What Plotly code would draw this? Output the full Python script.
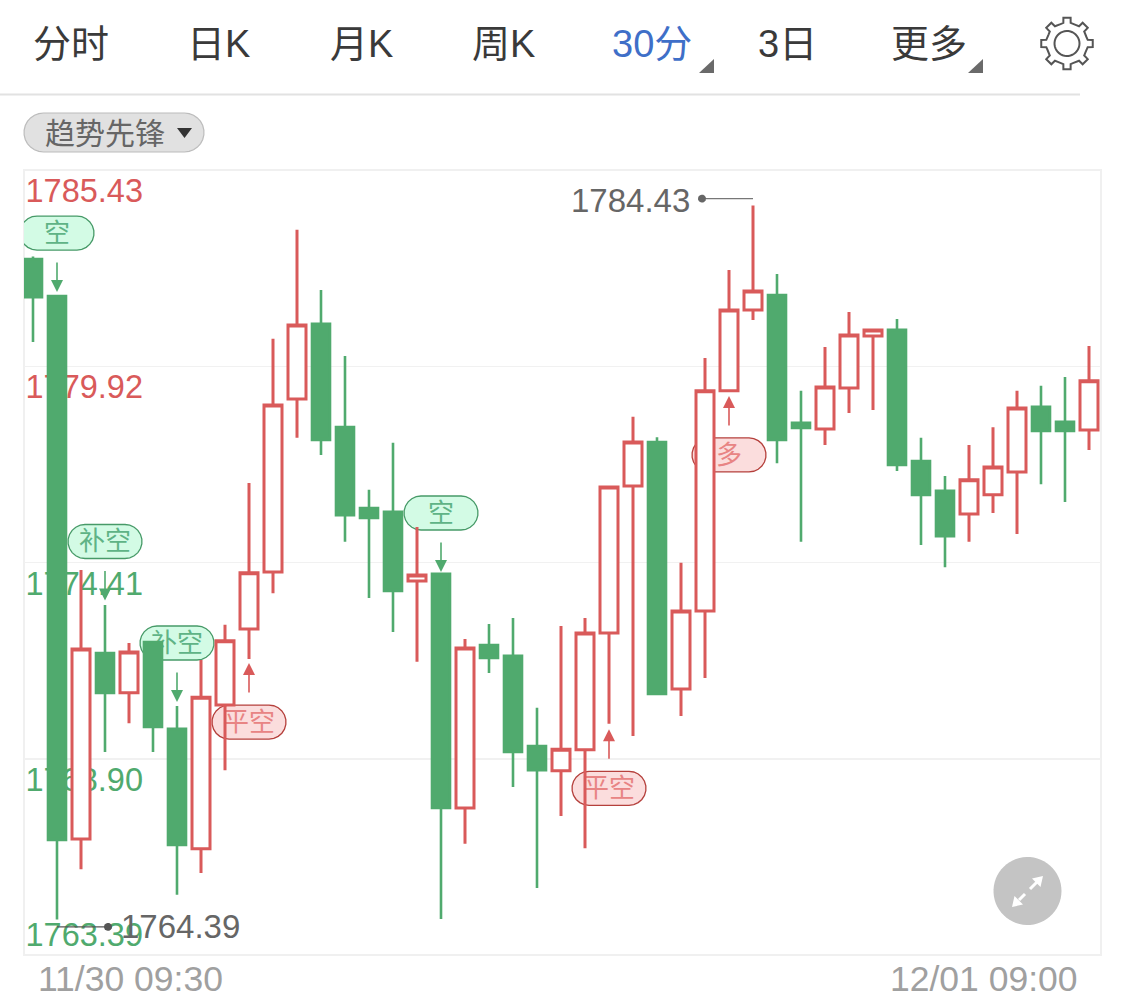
import numpy as np
import plotly.graph_objects as go

W, H = 1125, 1008
PL, PR, PT, PB = 24, 1101, 170, 955
Y_MIN, Y_MAX = 1763.39, 1785.43

# ---- data ----
opens = [1782.93, 1781.89, 1766.65, 1771.87, 1770.75, 1772.18, 1769.74, 1766.37, 1770.41, 1772.54,
         1774.14, 1779.00, 1781.11, 1778.21, 1775.94, 1775.83, 1773.89, 1774.09, 1767.52, 1772.09,
         1771.79, 1769.26, 1768.56, 1769.15, 1772.43, 1776.56, 1777.79, 1770.86, 1773.05, 1779.23,
         1781.50, 1781.92, 1778.33, 1778.16, 1779.31, 1780.77, 1780.94, 1777.26, 1776.42, 1775.77,
         1776.31, 1776.95, 1778.78, 1778.36, 1778.13]
highs = [1783.00, 1781.89, 1774.20, 1773.22, 1772.15, 1772.18, 1770.38, 1771.67, 1772.66, 1776.64,
         1780.69, 1783.75, 1782.06, 1780.21, 1776.45, 1777.77, 1775.41, 1774.09, 1772.26, 1772.68,
         1772.85, 1770.33, 1772.63, 1772.85, 1776.53, 1778.50, 1777.93, 1774.40, 1780.15, 1782.62,
         1784.43, 1782.51, 1779.23, 1780.46, 1781.44, 1780.97, 1781.25, 1777.91, 1776.84, 1777.71,
         1778.21, 1779.23, 1779.37, 1779.62, 1780.49]
lows = [1780.60, 1764.39, 1765.80, 1769.09, 1769.90, 1769.09, 1765.08, 1765.69, 1768.58, 1771.70,
        1773.55, 1777.91, 1777.43, 1774.99, 1773.41, 1772.46, 1771.62, 1764.40, 1766.51, 1771.31,
        1768.11, 1765.27, 1767.29, 1766.39, 1769.88, 1769.54, 1770.72, 1770.10, 1771.17, 1779.23,
        1781.22, 1777.20, 1774.99, 1777.71, 1778.61, 1778.69, 1776.98, 1774.90, 1774.28, 1774.99,
        1775.80, 1775.21, 1776.61, 1776.11, 1777.57]
closes = [1781.86, 1766.62, 1771.98, 1770.75, 1771.90, 1769.79, 1766.48, 1770.63, 1772.21, 1774.12,
          1778.83, 1781.08, 1777.85, 1775.74, 1775.66, 1773.61, 1774.06, 1767.52, 1772.01, 1771.73,
          1769.09, 1768.58, 1769.17, 1772.43, 1776.53, 1777.79, 1770.72, 1773.05, 1779.23, 1781.50,
          1782.03, 1777.85, 1778.19, 1779.34, 1780.80, 1780.94, 1777.15, 1776.31, 1775.15, 1776.73,
          1777.09, 1778.75, 1778.10, 1778.10, 1779.51]

price_ticks = [1785.43, 1779.92, 1774.41, 1768.90, 1763.39]
price_tick_labels = ["1785.43", "1779.92", "1774.41", "1768.90", "1763.39"]
date_labels = ["11/30 09:30", "12/01 09:00"]
tab_labels = ["分时", "日K", "月K", "周K", "30分", "3日", "更多"]
indicator_label = "趋势先锋"
max_label, min_label = "1784.43", "1764.39"
max_price, min_price = 1784.43, 1764.39
max_idx, min_idx = 30, 1
signal_labels = ["空", "补空", "补空", "平空", "空", "平空", "多"]
signal_idx = [1, 3, 6, 9, 17, 24, 29]
signal_prices = [1783.66, 1775.00, 1772.15, 1769.93, 1775.80, 1768.07, 1777.43]

# ---- colours ----
RED, GREEN = "#d95a5a", "#50aa6e"
GREY_TXT = "#666666"

# ---- pixel helpers (decoration placement) ----
def xp(i): return 33 + 24 * i
def yp(p): return PT + (Y_MAX - p) * (PB - PT) / (Y_MAX - Y_MIN)
def x_d(px): return (px - 33) / 24
def y_d(py): return Y_MAX - (py - PT) * (Y_MAX - Y_MIN) / (PB - PT)
def fx(px): return px / W
def fy(py): return 1 - py / H

def paper_path(pts, close=True):
    s = "M" + " L".join(f"{fx(a):.5f},{fy(b):.5f}" for a, b in pts)
    return s + (" Z" if close else "")

def rounded(cx, cy, w, h, n=10):
    r = h / 2
    pts = []
    for a in np.linspace(-90, 90, n):
        pts.append((cx + w / 2 - r + r * np.cos(np.radians(a)), cy + r * np.sin(np.radians(a))))
    for a in np.linspace(90, 270, n):
        pts.append((cx - w / 2 + r + r * np.cos(np.radians(a)), cy + r * np.sin(np.radians(a))))
    return pts

def data_path(pts):
    return "M" + " L".join(f"{x_d(a):.4f},{y_d(b):.4f}" for a, b in pts) + " Z"

shapes, annotations = [], []

def pshape(path, fill="rgba(0,0,0,0)", line="rgba(0,0,0,0)", lw=0, layer="above"):
    shapes.append(dict(type="path", xref="paper", yref="paper", path=path, fillcolor=fill,
                       line=dict(color=line, width=lw), layer=layer))

def text(t, cx, cy, size, color, xanchor="center", family="Liberation Sans, Noto Sans CJK SC"):
    annotations.append(dict(text=t, x=fx(cx), y=fy(cy), xref="paper", yref="paper", showarrow=False,
                            xanchor=xanchor, yanchor="middle", borderpad=0,
                            font=dict(size=size, color=color, family=family)))

# header tabs
tab_cx = [70.5, 218, 361, 503, 652, 787, 929]
for t, c in zip(tab_labels, tab_cx):
    text(t, c, 44, 38, "#3f6fc8" if t == "30分" else "#3a3a3a")
for x0 in (699, 968):
    pshape(paper_path([(x0, 73), (x0 + 15, 73), (x0 + 15, 59)]), fill="#6a6a6a")
# gear
cx, cy = 1067, 43.5
gear = []
for k in range(8):
    c = -90 + k * 45
    for da, r in [(-22.5 + 4, 20.5), (-10, 21), (-8, 26), (8, 26), (10, 21)]:
        a = np.radians(c + da)
        gear.append((cx + r * np.cos(a), cy + r * np.sin(a)))
pshape(paper_path(gear), line="#555555", lw=2)
circ = [(cx + 12.5 * np.cos(a), cy + 12.5 * np.sin(a)) for a in np.linspace(0, 2 * np.pi, 40)]
pshape(paper_path(circ), line="#555555", lw=2)
# header rule
pshape(paper_path([(0, 94.5), (1080, 94.5)], close=False), line="#e2e2e2", lw=2)
# indicator pill
pshape(paper_path(rounded(114, 132.5, 180, 39, 14)), fill="#e1e1e1", line="#bcbcbc", lw=1.2)
text(indicator_label, 105, 134, 30, GREY_TXT)
pshape(paper_path([(177, 128), (192, 128), (184.5, 138)]), fill="#333333")

# plot border, below the candles
shapes.append(dict(type="rect", xref="paper", yref="paper", x0=fx(PL), x1=fx(PR), y0=fy(PB), y1=fy(PT),
                   line=dict(color="#f0f0f0", width=2), layer="below"))

# signal chips, below the candles
chip_txt_x, chip_txt_y, chip_txt_c = [], [], []
for lab, i, p in zip(signal_labels, signal_idx, signal_prices):
    up = lab in ("平空", "多")
    fill, edge = ("#fbdddd", "#b5403c") if up else ("#d3fbe5", "#479a68")
    shapes.append(dict(type="path", xref="x", yref="y", path=data_path(rounded(xp(i), yp(p), 74, 34, 12)),
                       fillcolor=fill, line=dict(color=edge, width=1.3), layer="below"))
    chip_txt_x.append(i)
    chip_txt_y.append(y_d(yp(p) + 2.5))
    chip_txt_c.append("#e88484" if up else "#5fb386")
    sign = -1 if up else 1
    annotations.append(dict(x=i, y=y_d(yp(p) + sign * 59), xref="x", yref="y", text="", showarrow=True,
                            ax=0, ay=-sign * 31, axref="pixel", ayref="pixel", arrowhead=2, arrowsize=1.5,
                            arrowwidth=1.6, arrowcolor=RED if up else GREEN, standoff=0, startstandoff=0))

# max/min callouts
hy = yp(max_price) - 7
pshape(paper_path([(xp(max_idx), hy), (702, hy)], close=False), line="#777777", lw=1.4)
dot = lambda x0, y0: [(x0 + 4 * np.cos(a), y0 + 4 * np.sin(a)) for a in np.linspace(0, 2 * np.pi, 16)]
pshape(paper_path(dot(702, hy)), fill="#666666")
text(max_label, 630, hy + 2, 33, GREY_TXT)
ly = yp(min_price) + 7.5
pshape(paper_path([(xp(min_idx), ly), (108, ly)], close=False), line="#555555", lw=1.4)
pshape(paper_path(dot(108, ly)), fill="#555555")
text(min_label, 180, ly, 33, GREY_TXT)

# date labels
text(date_labels[0], 130.5, 979, 35.5, "#a0a0a0")
text(date_labels[1], 984, 979, 35.5, "#a0a0a0")

# expand button
ecx, ecy = 1027.5, 891
pshape(paper_path([(ecx + 34 * np.cos(a), ecy + 34 * np.sin(a)) for a in np.linspace(0, 2 * np.pi, 60)]), fill="#c4c4c4")
pshape(paper_path([(1043, 876), (1032, 878.5), (1040.5, 887)]), fill="#ffffff")
pshape(paper_path([(1030, 889), (1037, 882)], close=False), line="#ffffff", lw=3)
pshape(paper_path([(1012, 907), (1023, 904.5), (1014.5, 896)]), fill="#ffffff")
pshape(paper_path([(1019, 900), (1025, 894)], close=False), line="#ffffff", lw=3)

# ---- traces ----
idx = list(range(len(opens)))
tick_offsets = [24, 24, 24, 24, -17]
tick_colors = [RED, RED, GREEN, GREEN, GREEN]

fig = go.Figure()
fig.add_trace(go.Scatter(
    x=[x_d(25.5)] * len(price_ticks),
    y=[y_d(yp(t) + o) for t, o in zip(price_ticks, tick_offsets)],
    text=price_tick_labels, mode="text", textposition="middle right", cliponaxis=False,
    textfont=dict(size=32.5, color=tick_colors, family="Liberation Sans"), hoverinfo="skip", showlegend=False,
    xaxis="x", yaxis="y"))
fig.add_trace(go.Scatter(
    x=chip_txt_x, y=chip_txt_y, text=signal_labels, mode="text", textposition="middle center", cliponaxis=False,
    textfont=dict(size=26, color=chip_txt_c, family="Noto Sans CJK SC"), hoverinfo="skip", showlegend=False,
    xaxis="x", yaxis="y"))
fig.add_trace(go.Candlestick(
    x=idx, open=opens, high=highs, low=lows, close=closes,
    increasing=dict(line=dict(color=RED, width=3), fillcolor="#ffffff"),
    decreasing=dict(line=dict(color=GREEN, width=2.6), fillcolor=GREEN),
    whiskerwidth=0, hoverinfo="skip", showlegend=False, xaxis="x2", yaxis="y2"))

x_range = [x_d(PL), x_d(PR)]
x_dom = [fx(PL), fx(PR)]
y_dom = [fy(PB), fy(PT)]
fig.update_layout(
    width=W, height=H, margin=dict(l=0, r=0, t=0, b=0, pad=0),
    paper_bgcolor="#ffffff", plot_bgcolor="rgba(0,0,0,0)", showlegend=False, boxgap=0.25, boxgroupgap=0,
    xaxis=dict(domain=x_dom, range=x_range, showgrid=False, zeroline=False, showticklabels=False, ticks=""),
    yaxis=dict(domain=y_dom, range=[Y_MIN, Y_MAX], tickmode="array", tickvals=price_ticks[1:4], showgrid=True,
               gridcolor="#f1f1f1", gridwidth=1.5, zeroline=False, showticklabels=False, ticks=""),
    xaxis2=dict(domain=x_dom, range=x_range, overlaying="x", anchor="y2", visible=False,
                rangeslider=dict(visible=False)),
    yaxis2=dict(domain=y_dom, range=[Y_MIN, Y_MAX], overlaying="y", anchor="x2", visible=False),
    shapes=shapes, annotations=annotations,
)
fig.write_html("out.html", config=dict(displayModeBar=False, staticPlot=True),
               post_script="document.body.style.margin='0';document.body.style.overflow='hidden';")
